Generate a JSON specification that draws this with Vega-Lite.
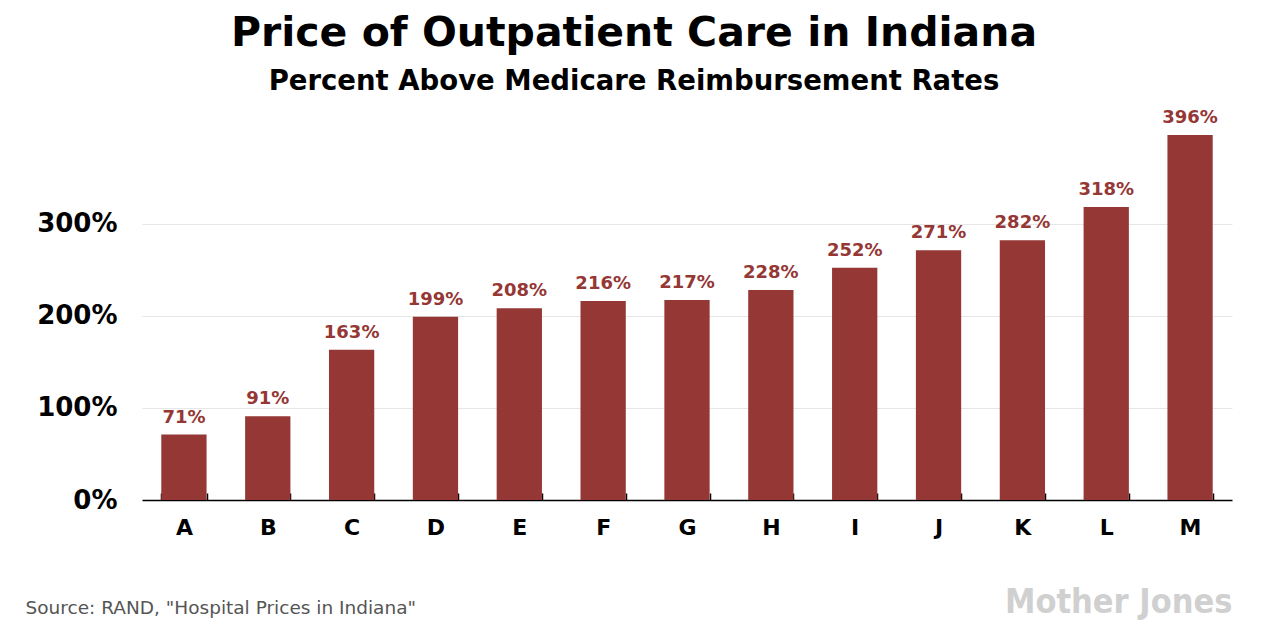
{
  "$schema": "https://vega.github.io/schema/vega-lite/v6.json",
  "autosize": "none",
  "width": 1090,
  "height": 387,
  "padding": {"left": 142, "top": 113, "right": 36, "bottom": 127},
  "background": "white",
  "title": {
    "text": "Price of Outpatient Care in Indiana",
    "subtitle": "Percent Above Medicare Reimbursement Rates",
    "anchor": "middle",
    "frame": "group",
    "dx": -53,
    "font": "DejaVu Sans",
    "fontWeight": "bold",
    "fontSize": 41,
    "color": "#000000",
    "subtitleFont": "DejaVu Sans",
    "subtitleFontWeight": "bold",
    "subtitleFontSize": 27.5,
    "subtitleColor": "#000000",
    "subtitlePadding": 13,
    "offset": 13
  },
  "data": {
    "values": [
      {"hospital": "A", "pct": 0.71},
      {"hospital": "B", "pct": 0.91},
      {"hospital": "C", "pct": 1.63},
      {"hospital": "D", "pct": 1.99},
      {"hospital": "E", "pct": 2.08},
      {"hospital": "F", "pct": 2.16},
      {"hospital": "G", "pct": 2.17},
      {"hospital": "H", "pct": 2.28},
      {"hospital": "I", "pct": 2.52},
      {"hospital": "J", "pct": 2.71},
      {"hospital": "K", "pct": 2.82},
      {"hospital": "L", "pct": 3.18},
      {"hospital": "M", "pct": 3.96}
    ]
  },
  "config": {
    "view": {"stroke": null},
    "axis": {"labelFont": "DejaVu Sans", "labelFontWeight": "bold", "labelColor": "#000000"}
  },
  "layer": [
    {
      "mark": {"type": "bar", "color": "#943735"},
      "encoding": {
        "x": {
          "field": "hospital",
          "type": "nominal",
          "sort": null,
          "scale": {"paddingInner": 0.46, "paddingOuter": 0.23},
          "axis": {
            "labelAngle": 0,
            "labelFontSize": 22,
            "labelPadding": 24,
            "tickBand": "extent",
            "ticks": true,
            "tickSize": -7,
            "tickColor": "#000000",
            "tickWidth": 1.5,
            "domainColor": "#000000",
            "domainWidth": 1.5,
            "grid": false,
            "title": "Source: RAND, \"Hospital Prices in Indiana\"",
            "titleFont": "DejaVu Sans",
            "titleFontWeight": "normal",
            "titleFontSize": 18.5,
            "titleColor": "#555555",
            "titleAnchor": "start",
            "titleAlign": "left",
            "titleBaseline": "alphabetic",
            "titleX": -117,
            "titleY": 113
          }
        },
        "y": {
          "field": "pct",
          "type": "quantitative",
          "scale": {"domain": [0, 4.2], "nice": false},
          "axis": {
            "values": [0, 1, 2, 3],
            "format": ".0%",
            "labelFontSize": 26,
            "labelPadding": 25,
            "ticks": false,
            "domain": false,
            "grid": true,
            "gridColor": "#e6e6e6",
            "gridWidth": 1,
            "title": null
          }
        }
      }
    },
    {
      "mark": {"type": "text", "color": "#943735", "font": "DejaVu Sans", "fontWeight": "bold", "fontSize": 18, "baseline": "alphabetic", "dy": -12},
      "encoding": {
        "x": {"field": "hospital", "type": "nominal", "sort": null},
        "y": {
          "field": "pct",
          "type": "quantitative",
          "scale": {"domain": [0, 4.2], "nice": false},
          "axis": {
            "orient": "right",
            "labels": false,
            "ticks": false,
            "domain": false,
            "grid": false,
            "title": "Mother Jones",
            "titleAngle": 0,
            "titleAlign": "right",
            "titleBaseline": "alphabetic",
            "titleX": 0,
            "titleY": 499,
            "titleFont": "DejaVu Sans Condensed",
            "titleFontWeight": "bold",
            "titleFontSize": 34,
            "titleColor": "#d0d0d0"
          }
        },
        "text": {"field": "pct", "type": "quantitative", "format": ".0%"}
      }
    }
  ],
  "resolve": {"scale": {"y": "independent"}, "axis": {"y": "independent"}}
}
